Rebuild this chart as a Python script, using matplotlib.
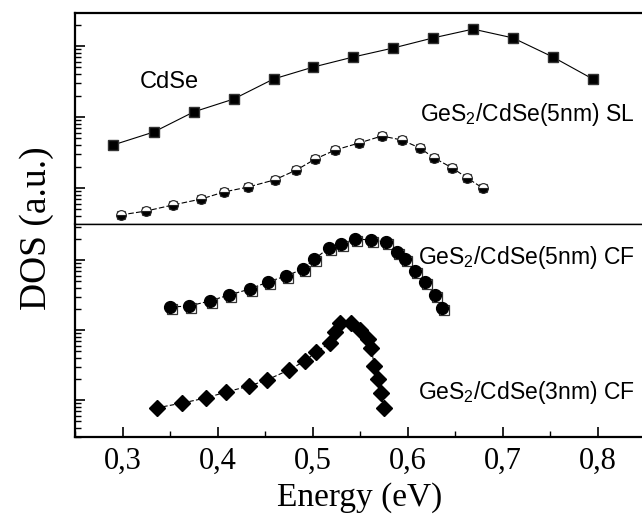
import numpy as np
import matplotlib
matplotlib.use("Agg")
import matplotlib.pyplot as plt
import matplotlib.transforms as mtransforms
from matplotlib.ticker import LogLocator, MultipleLocator, NullFormatter

# Top panel: CdSe
cdse_e = [0.290, 0.333, 0.375, 0.417, 0.459, 0.501, 0.543, 0.585, 0.627, 0.669, 0.711, 0.753, 0.795]
cdse_dos = [4.03, 6.15, 11.8, 17.9, 34.3, 50.6, 70.0, 93.7, 130, 173, 130, 70.0, 34.3]

# Top panel: GeS2/CdSe(5nm) SL
sl_e = [0.298, 0.325, 0.353, 0.383, 0.407, 0.432, 0.460, 0.483, 0.503, 0.524,
        0.549, 0.573, 0.594, 0.613, 0.628, 0.647, 0.663, 0.679]
sl_dos = [0.417, 0.474, 0.576, 0.70, 0.88, 1.03, 1.30, 1.79, 2.56, 3.43,
          4.30, 5.40, 4.74, 3.66, 2.65, 1.92, 1.38, 1.0]

# Bottom panel: GeS2/CdSe(5nm) CF
cf5_e = [0.350, 0.370, 0.392, 0.412, 0.434, 0.453, 0.472, 0.490, 0.502, 0.517,
         0.530, 0.545, 0.562, 0.577, 0.589, 0.597, 0.608, 0.618, 0.629, 0.636]
cf5_dos = [21.3, 22.0, 26.0, 31.6, 38.5, 48.5, 59.1, 74.4, 103, 148,
           169, 200, 193, 181, 130, 103, 69.6, 48.5, 31.6, 20.6]

# Bottom panel: GeS2/CdSe(3nm) CF
cf3_e = [0.336, 0.363, 0.388, 0.409, 0.433, 0.452, 0.475, 0.492, 0.504, 0.518,
         0.524, 0.529, 0.540, 0.550, 0.558, 0.562, 0.565, 0.569, 0.572, 0.575]
cf3_dos = [0.77, 0.906, 1.07, 1.30, 1.58, 1.93, 2.68, 3.61, 4.85, 6.52,
           9.36, 12.6, 12.6, 10.0, 7.44, 5.53, 3.06, 2.0, 1.26, 0.77]

xticks = [0.3, 0.4, 0.5, 0.6, 0.7, 0.8]
xticklabels = ["0,3", "0,4", "0,5", "0,6", "0,7", "0,8"]

plt.rcParams["mathtext.default"] = "regular"
sans = ["Liberation Sans", "DejaVu Sans"]
serif = ["Liberation Serif", "DejaVu Serif"]

fig = plt.figure(figsize=(6.42, 5.15), dpi=100)
ax1 = fig.add_axes([75 / 642, 1 - 224 / 515, 570 / 642, 211 / 515])
ax2 = fig.add_axes([75 / 642, 1 - 437 / 515, 570 / 642, 213 / 515])

# top panel
ax1.plot(cdse_e, cdse_dos, color="black", lw=0.8, marker="s", ms=7,
         mfc="black", mec="#333333")
ax1.plot(sl_e, sl_dos, color="black", lw=0.8, ls=(0, (5, 2)), marker="s", ms=6,
         mfc="white", mec="#555555", mew=0.8)
ax1.plot(sl_e, sl_dos, ls="none", marker="o", ms=7, fillstyle="bottom",
         mfc="black", mfcalt="white", mec="#222222", mew=0.8)
ax1.set_ylim(0.311, 291.6)

# bottom panel - open squares sit a little below/right of the circles
shifted = mtransforms.offset_copy(ax2.transData, fig=fig, x=1.5, y=-1.5, units="points")
ax2.plot(cf5_e, cf5_dos, color="black", lw=0.8, ls=(0, (4, 2)))
ax2.plot(cf5_e, cf5_dos, ls="none", marker="s", ms=6.5, mfc="white",
         mec="#333333", mew=0.9, transform=shifted)
ax2.plot(cf5_e, cf5_dos, ls="none", marker="o", ms=8.5, mfc="black", mec="black")
ax2.plot(cf3_e, cf3_dos, color="black", lw=0.8, ls=(0, (4, 2)), marker="D", ms=8,
         mfc="black", mec="black")
ax2.set_ylim(0.296, 327)

for ax in (ax1, ax2):
    ax.set_yscale("log")
    ax.set_xlim(0.25, 0.85)
    ax.yaxis.set_major_locator(LogLocator(base=10))
    ax.yaxis.set_minor_locator(LogLocator(base=10, subs=np.arange(2, 10)))
    ax.yaxis.set_major_formatter(NullFormatter())
    ax.yaxis.set_minor_formatter(NullFormatter())
    ax.tick_params(axis="y", which="major", direction="in", length=7, width=1.2,
                   left=True, right=False)
    ax.tick_params(axis="y", which="minor", direction="in", length=4, width=1.0,
                   left=True, right=False)
    ax.spines["right"].set_visible(False)
    for s in ("left", "top", "bottom"):
        ax.spines[s].set_linewidth(1.6)

ax1.spines["bottom"].set_linewidth(1.0)
ax2.spines["top"].set_linewidth(1.0)
ax1.tick_params(axis="x", which="both", bottom=False, top=False, labelbottom=False)

ax2.xaxis.set_minor_locator(MultipleLocator(0.05))
ax2.set_xticks(xticks)
ax2.set_xticklabels(xticklabels, fontfamily=serif, fontsize=22)
ax2.tick_params(axis="x", which="major", direction="in", length=7, width=1.2,
                top=False, pad=7)
ax2.tick_params(axis="x", which="minor", direction="in", length=4, width=1.0,
                top=False)

ax2.set_xlabel("Energy (eV)", fontfamily=serif, fontsize=24, labelpad=5)
fig.text(37 / 642, 1 - 228 / 515, "DOS (a.u.)", rotation=90, ha="center",
         va="center", fontfamily=serif, fontsize=27)

ax1.text(140 / 642, 1 - 88 / 515, "CdSe", transform=fig.transFigure,
         fontfamily=sans, fontsize=17, ha="left", va="baseline")
ax1.text(420 / 642, 1 - 121 / 515, r"GeS$_2$/CdSe(5nm) SL", transform=fig.transFigure,
         fontfamily=sans, fontsize=16.5, ha="left", va="baseline")
ax2.text(418 / 642, 1 - 264 / 515, r"GeS$_2$/CdSe(5nm) CF", transform=fig.transFigure,
         fontfamily=sans, fontsize=16.5, ha="left", va="baseline")
ax2.text(418 / 642, 1 - 399 / 515, r"GeS$_2$/CdSe(3nm) CF", transform=fig.transFigure,
         fontfamily=sans, fontsize=16.5, ha="left", va="baseline")

fig.savefig("out.png", dpi=100)
